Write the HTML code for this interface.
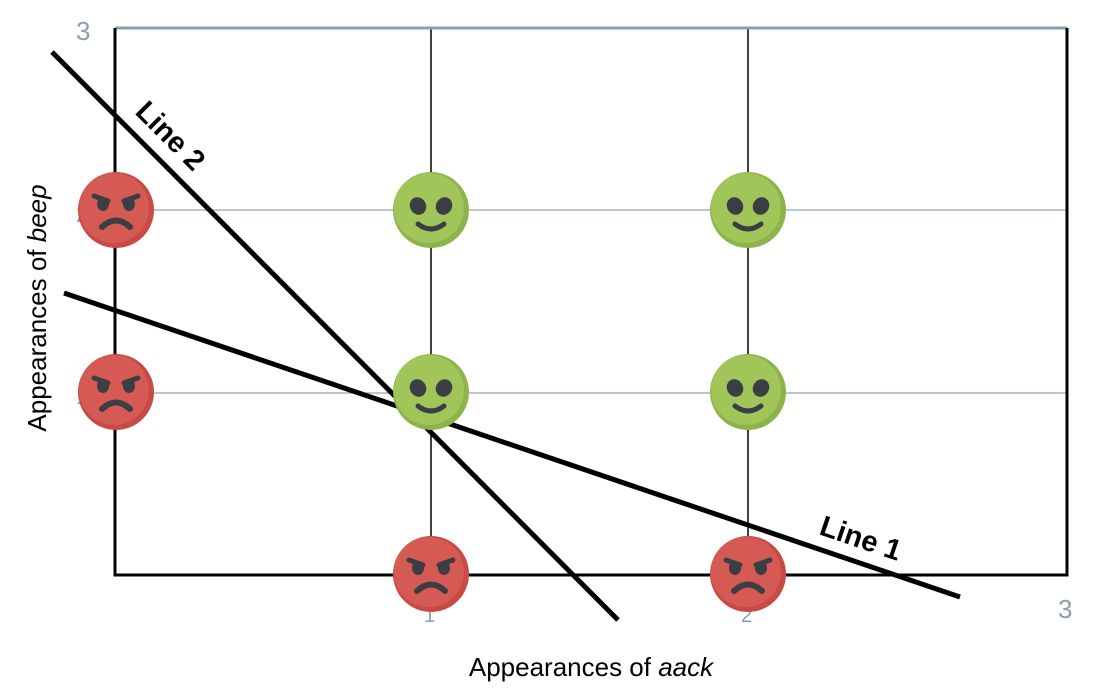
<!DOCTYPE html>
<html><head><meta charset="utf-8"><style>body{margin:0;background:#fff}svg{display:block}</style></head><body>
<svg width="1120" height="688" viewBox="0 0 1120 688" xmlns="http://www.w3.org/2000/svg" font-family="Liberation Sans, sans-serif">
<defs>
<g id="angry">
<circle r="38" fill="#c94a44"/>
<circle cx="-2" cy="-2" r="35" fill="#d65a54"/>
<path d="M-22,-14 L-8,-9" stroke="#3b3f45" stroke-width="5" stroke-linecap="round"/>
<path d="M22,-14 L8,-9" stroke="#3b3f45" stroke-width="5" stroke-linecap="round"/>
<ellipse cx="-13" cy="-6" rx="6" ry="7" fill="#3b3f45"/>
<ellipse cx="13" cy="-6" rx="6" ry="7" fill="#3b3f45"/>
<path d="M-14,17 Q0,4 14,17" stroke="#3b3f45" stroke-width="6" fill="none" stroke-linecap="round"/>
</g>
<g id="alien">
<circle r="38" fill="#8db44a"/>
<circle cx="-2" cy="-2" r="35" fill="#a0c558"/>
<ellipse cx="-13" cy="-4" rx="8" ry="9" transform="rotate(-30 -13 -4)" fill="#3b3f45"/>
<ellipse cx="13" cy="-4" rx="8" ry="9" transform="rotate(30 13 -4)" fill="#3b3f45"/>
<path d="M-13,14 Q0,24 13,14" stroke="#3b3f45" stroke-width="5" fill="none" stroke-linecap="round"/>
</g>
</defs>
<line x1="115" y1="210" x2="1067" y2="210" stroke="#7a90a0" stroke-width="1"/>
<line x1="115" y1="393" x2="1067" y2="393" stroke="#7a90a0" stroke-width="1"/>
<line x1="431" y1="28" x2="431" y2="575" stroke="#000" stroke-width="1.5"/>
<line x1="748" y1="28" x2="748" y2="575" stroke="#000" stroke-width="1.5"/>
<line x1="115" y1="28" x2="1067" y2="28" stroke="#8a9fb0" stroke-width="3"/>
<path d="M115,28 V575 H1067 V28" stroke="#000" stroke-width="3" fill="none"/>
<g fill="#8a9fb0" font-size="26">
<text x="76" y="40">3</text>
<text x="1058" y="618">3</text>
<text x="424" y="622" font-size="20">1</text>
<text x="741" y="622" font-size="20">2</text>
<text x="76" y="222" font-size="22">2</text>
<text x="76" y="404" font-size="22">1</text>
</g>
<line x1="52" y1="52" x2="618" y2="620" stroke="#000" stroke-width="5"/>
<line x1="64" y1="293" x2="960" y2="597" stroke="#000" stroke-width="5"/>
<use href="#angry" x="116" y="210"/>
<use href="#angry" x="116" y="392"/>
<use href="#alien" x="431" y="210"/>
<use href="#alien" x="748" y="210"/>
<use href="#alien" x="431" y="392"/>
<use href="#alien" x="748" y="392"/>
<use href="#angry" x="431" y="574"/>
<use href="#angry" x="748" y="574"/>
<text x="0" y="0" font-size="29" font-weight="bold" transform="translate(134,113) rotate(45)">Line 2</text>
<text x="0" y="0" font-size="29" font-weight="bold" transform="translate(818,534) rotate(18.7)">Line 1</text>
<text x="591" y="676" font-size="26" text-anchor="middle">Appearances of <tspan font-style="italic">aack</tspan></text>
<text x="0" y="0" font-size="26" text-anchor="middle" transform="translate(46,308) rotate(-90)">Appearances of <tspan font-style="italic">beep</tspan></text>
</svg>
</body></html>
